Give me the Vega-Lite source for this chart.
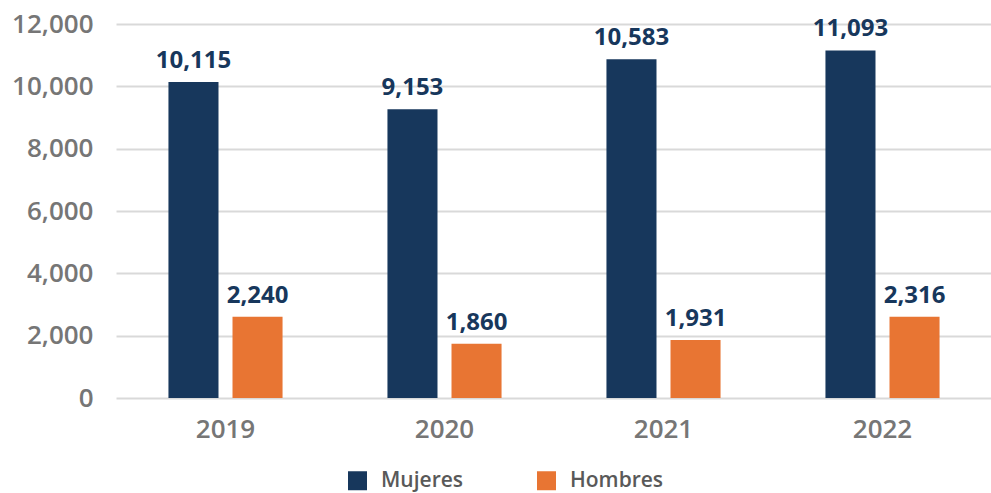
{
  "$schema": "https://vega.github.io/schema/vega-lite/v6.json",
  "width": 876,
  "height": 374,
  "autosize": {"type": "none"},
  "padding": {"left": 116, "top": 24, "right": 0, "bottom": 95},
  "background": "white",
  "data": {
    "values": [
      {"anio": "2019", "sexo": "Mujeres", "valor": 10137, "etiqueta": "10,115"},
      {"anio": "2019", "sexo": "Hombres", "valor": 2606, "etiqueta": "2,240"},
      {"anio": "2020", "sexo": "Mujeres", "valor": 9262, "etiqueta": "9,153"},
      {"anio": "2020", "sexo": "Hombres", "valor": 1740, "etiqueta": "1,860"},
      {"anio": "2021", "sexo": "Mujeres", "valor": 10865, "etiqueta": "10,583"},
      {"anio": "2021", "sexo": "Hombres", "valor": 1859, "etiqueta": "1,931"},
      {"anio": "2022", "sexo": "Mujeres", "valor": 11153, "etiqueta": "11,093"},
      {"anio": "2022", "sexo": "Hombres", "valor": 2606, "etiqueta": "2,316"}
    ]
  },
  "config": {
    "view": {"stroke": null},
    "font": "Open Sans"
  },
  "encoding": {
    "x": {
      "field": "anio", "type": "nominal",
      "scale": {"paddingInner": 0.479, "paddingOuter": 0.2395},
      "axis": {
        "title": null, "labelAngle": 0, "domain": false, "ticks": false,
        "labelFont": "Open Sans", "labelFontSize": 26, "labelFontWeight": 600,
        "labelColor": "#767676", "labelPadding": 18
      }
    },
    "xOffset": {
      "field": "sexo", "type": "nominal",
      "sort": ["Mujeres", "Hombres"],
      "scale": {"paddingInner": 0.21875, "paddingOuter": 0}
    },
    "y": {
      "field": "valor", "type": "quantitative",
      "scale": {"domain": [0, 12000], "nice": false},
      "axis": {
        "title": null, "domain": false, "ticks": false,
        "values": [0, 2000, 4000, 6000, 8000, 10000, 12000],
        "format": ",d",
        "gridColor": "#d9d9d9", "gridWidth": 2,
        "labelFont": "Open Sans", "labelFontSize": 26, "labelFontWeight": 600,
        "labelColor": "#767676", "labelPadding": 23
      }
    }
  },
  "layer": [
    {
      "mark": {"type": "bar"},
      "encoding": {
        "color": {
          "field": "sexo", "type": "nominal",
          "sort": ["Mujeres", "Hombres"],
          "scale": {"domain": ["Mujeres", "Hombres"], "range": ["#17375c", "#e87533"]},
          "legend": {
            "title": null, "orient": "none", "direction": "horizontal",
            "legendX": 231, "legendY": 446, "padding": 0,
            "symbolType": "square", "symbolSize": 361, "symbolStrokeWidth": 0,
            "labelFont": "Open Sans", "labelFontSize": 21, "labelFontWeight": 600,
            "labelColor": "#595959", "labelOffset": 13, "columnPadding": 72
          }
        }
      }
    },
    {
      "mark": {"type": "text", "baseline": "alphabetic", "align": "center", "dy": -14,
               "font": "Open Sans", "fontSize": 24, "fontWeight": 700, "color": "#17375c"},
      "encoding": {"text": {"field": "etiqueta"}}
    }
  ]
}
